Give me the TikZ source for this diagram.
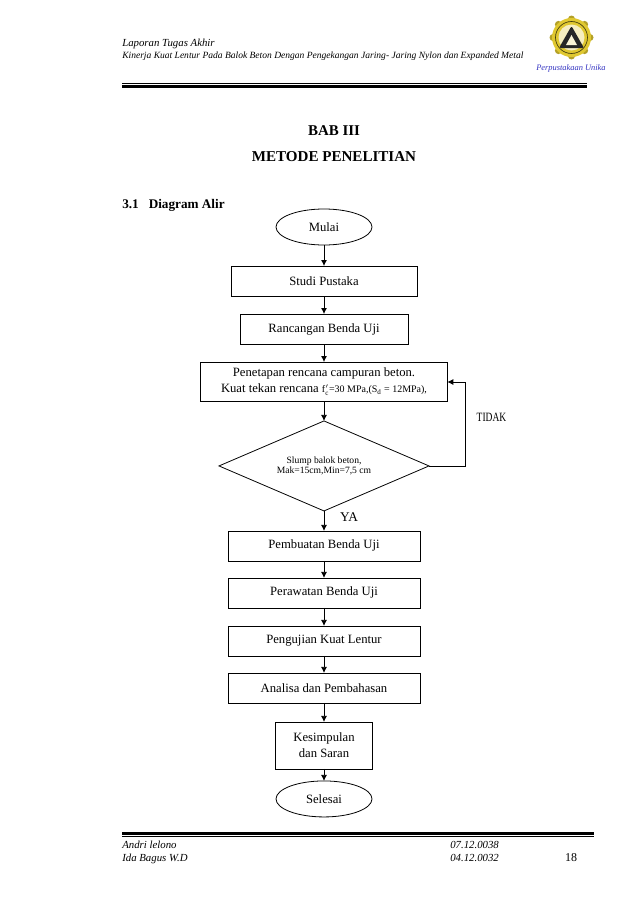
\documentclass[tikz,border=0pt]{standalone}
\usepackage{xcolor}
\usepackage{fontspec}
\setmainfont{Liberation Serif}
\usetikzlibrary{arrows.meta,positioning,shapes.geometric}
\definecolor{logoyellow}{HTML}{E0C830}
\definecolor{logoblue}{HTML}{3030C0}

\begin{document}
\begin{tikzpicture}[
  x=0.75pt, y=-0.75pt,
  b/.style={draw, minimum height=22.5pt, inner sep=0pt, outer sep=0pt, line width=0.6pt, align=center, font=\fontsize{9.5}{12}\selectfont},
  t/.style={b, ellipse, minimum width=72pt, minimum height=27pt},
  a/.style={-{Latex[length=4.5pt,width=4.5pt]}, line width=0.6pt},
  h/.style={inner sep=0pt, align=left, anchor=north west, font=\fontsize{8.1}{9.6}\selectfont\itshape}
]
  \useasboundingbox (0,0) rectangle (638,903);

  % header and footer
  \node[h] (hd1) at (122,39) {Laporan Tugas Akhir};
  \node[h, font=\fontsize{7.15}{9}\selectfont\itshape] (hd2) at (122,52) {Kinerja Kuat Lentur Pada Balok Beton Dengan Pengekangan Jaring- Jaring Nylon dan Expanded Metal};
  \node[inner sep=0pt, text=logoblue, font=\fontsize{6.3}{8}\selectfont\itshape] (lib) at (571,68) {Perpustakaan Unika};
  \draw[line width=0.6pt] (122,83) -- (587,83);
  \draw[line width=2.2pt] (122,86.5) -- (587,86.5);
  \draw[line width=2.2pt] (122,833.5) -- (594,833.5);
  \draw[line width=0.6pt] (122,836.5) -- (594,836.5);
  \node[h] (ft1) at (122,841) {Andri lelono\\Ida Bagus W.D};
  \node[h] (ft2) at (450,841) {07.12.0038\\04.12.0032};
  \node[inner sep=0pt, font=\fontsize{9}{11}\selectfont] (pg) at (571,858) {18};

  % logo
  \foreach \i in {0,45,...,315}
    \fill[logoyellow!80!black] (571.5,37.5) ++(\i:18.5) circle[radius=3.5];
  \fill[logoyellow] (571.5,37.5) circle[radius=19.5];
  \draw[black!70!logoyellow, line width=0.5pt] (571.5,37.5) circle[radius=16];
  \fill[white!70!logoyellow] (571.5,37.5) circle[radius=13];
  \fill[black!85, rounded corners=1.5pt] (571.5,26) -- (584,48) -- (559,48) -- cycle;
  \fill[white!80!logoyellow] (571.5,35) -- (577,45) -- (566,45) -- cycle;

  % titles
  \node[inner sep=0pt, font=\fontsize{11.2}{12}\selectfont\bfseries] (bab) at (334,131) {BAB III};
  \node[inner sep=0pt, font=\fontsize{11.3}{12}\selectfont\bfseries] (judul) at (334,156.5) {METODE PENELITIAN};
  \node[inner sep=0pt, anchor=west, font=\fontsize{9.9}{12}\selectfont\bfseries] (sub) at (122,205) {3.1\hspace{7.5pt}Diagram Alir};

  % flow
  \node[t] (mulai) at (324,227) {Mulai};
  \node[b, minimum width=139.5pt, below=15.75pt of mulai] (studi) {Studi Pustaka};
  \node[b, minimum width=126pt, below=13.5pt of studi] (ranc) {Rancangan Benda Uji};
  \node[b, minimum width=185pt, minimum height=29.6pt, below=13.5pt of ranc] (tetap) {Penetapan rencana campuran beton.\\Kuat tekan rencana {\fontsize{7.5}{9}\selectfont f$'_{\mathrm{c}}$=30 MPa,(S$_{\mathrm{d}}$ = 12MPa),}};
  \node[b, diamond, aspect=2.33, minimum width=157.5pt, minimum height=67.5pt, below=14.6pt of tetap, font=\fontsize{7.2}{8.2}\selectfont] (slump) {Slump balok beton,\\Mak=15cm,Min=7,5 cm};
  \node[b, minimum width=144pt, below=15pt of slump] (buat) {Pembuatan Benda Uji};
  \node[b, minimum width=144pt, below=12.75pt of buat] (rawat) {Perawatan Benda Uji};
  \node[b, minimum width=144pt, below=13.5pt of rawat] (uji) {Pengujian Kuat Lentur};
  \node[b, minimum width=144pt, below=12.75pt of uji] (bahas) {Analisa dan Pembahasan};
  \node[b, minimum width=72.75pt, minimum height=35.25pt, below=14.25pt of bahas] (simpul) {Kesimpulan\\dan Saran};
  \node[t, below=9pt of simpul] (selesai) {Selesai};

  \node[inner sep=0pt, font=\fontsize{10}{12}\selectfont] (ya) at (349,517) {YA};
  \node[inner sep=0pt, font=\fontsize{9.5}{10}\selectfont] (tidak) at (491.5,417) {\scalebox{0.75}[1]{TIDAK}};

  \draw[a] (mulai) -- (studi);
  \draw[a] (studi) -- (ranc);
  \draw[a] (ranc) -- (tetap);
  \draw[a] (tetap) -- (slump);
  \draw[a] (slump) -- (buat);
  \draw[a] (buat) -- (rawat);
  \draw[a] (rawat) -- (uji);
  \draw[a] (uji) -- (bahas);
  \draw[a] (bahas) -- (simpul);
  \draw[a] (simpul) -- (selesai);
  \draw[a] (slump.east) -| (465,382) -- (tetap.east |- 465,382);
\end{tikzpicture}
\end{document}
